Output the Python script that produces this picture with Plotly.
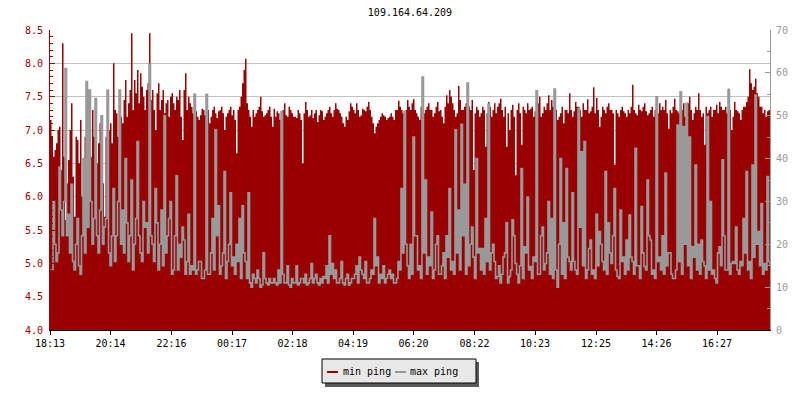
import plotly.graph_objects as go

# ---------------- data ----------------
title_text = "109.164.64.209"
step_min = 3  # sampling interval (minutes), first sample at 18:13
tick_minutes = [0, 121, 243, 364, 485, 606, 727, 849, 970, 1092, 1213, 1334]
tick_labels = ["18:13", "20:14", "22:16", "00:17", "02:18", "04:19",
               "06:20", "08:22", "10:23", "12:25", "14:26", "16:27"]

# min ping (ms), left axis
min_ping = [
    7.15, 6.9, 6.6, 6.7, 6.8, 7.0, 7.05, 6.4, 8.3, 6.6, 5.65, 6.2, 6.55, 7.0, 7.4, 6.3, 5.7, 6.9, 6.85, 6.5, 7.15, 6.0, 5.72, 6.9,
    6.73, 7.0, 7.1, 6.6, 7.3, 6.9, 7.1, 6.5, 6.8, 7.1, 6.85, 6.2, 5.7, 6.9, 6.6, 7.0, 7.1, 6.8, 8.0, 7.3, 7.25, 6.9, 7.0, 7.2,
    7.1, 7.45, 7.75, 7.2, 7.4, 7.6, 8.45, 7.3, 7.75, 7.55, 7.9, 7.4, 7.85, 7.65, 7.5, 7.3, 7.6, 7.7, 8.45, 7.45, 7.6, 7.3, 7.0, 7.55,
    7.7, 7.3, 7.45, 7.6, 7.25, 7.4, 7.45, 7.2, 7.5, 7.55, 7.4, 7.3, 7.5, 7.45, 7.6, 7.2, 6.85, 7.6, 7.85, 7.3, 7.5, 7.4, 7.35, 7.25,
    7.35, 7.28, 7.2, 7.15, 7.22, 7.32, 7.3, 7.22, 7.4, 7.3, 7.1, 7.2, 7.3, 7.35, 7.25, 7.18, 7.28, 7.3, 7.35, 7.25, 7.0, 7.2, 7.25, 7.3,
    7.35, 7.22, 7.3, 7.15, 6.65, 7.3, 7.35, 7.5, 7.7, 7.9, 8.07, 7.4, 7.3, 7.2, 7.05, 7.3, 7.2, 7.25, 7.3, 7.35, 7.5, 7.28, 7.2, 7.22,
    7.25, 7.3, 7.35, 7.2, 7.05, 7.32, 7.2, 7.28, 7.25, 7.15, 6.95, 7.3, 7.4, 7.22, 7.2, 7.35, 7.3, 7.25, 7.2, 7.2, 7.18, 7.3, 7.25, 7.15,
    6.5, 7.25, 7.42, 7.3, 7.2, 7.22, 7.3, 7.18, 7.25, 7.3, 7.12, 7.22, 7.3, 7.28, 7.15, 7.2, 7.25, 7.3, 7.35, 7.25, 7.2, 7.3, 7.4, 7.32,
    7.3, 7.25, 7.2, 7.1, 7.05, 7.2, 7.15, 7.28, 7.4, 7.35, 7.3, 7.25, 7.4, 7.3, 7.2, 7.22, 7.32, 7.3, 7.28, 7.35, 7.42, 7.3, 7.2, 7.1,
    6.95, 7.05, 7.1, 7.15, 7.2, 7.25, 7.22, 7.2, 7.15, 7.18, 7.2, 7.25, 7.2, 7.15, 7.3, 7.3, 7.44, 7.35, 7.3, 7.25, 7.2, 7.3, 7.45, 7.35,
    7.3, 7.4, 7.46, 7.3, 7.25, 7.2, 7.15, 7.35, 7.58, 7.25, 7.3, 7.35, 7.4, 7.3, 7.3, 7.2, 7.25, 7.35, 7.42, 7.28, 7.3, 7.2, 7.1, 7.35,
    7.52, 7.4, 7.6, 7.5, 7.4, 7.3, 7.2, 7.25, 7.66, 7.45, 7.3, 7.3, 7.35, 7.4, 7.55, 7.35, 7.3, 7.45, 6.4, 7.25, 7.35, 7.3, 7.2, 7.25,
    7.35, 7.3, 6.75, 7.25, 7.42, 7.35, 7.2, 7.3, 7.4, 7.25, 7.35, 7.4, 7.47, 7.3, 7.2, 7.35, 6.75, 7.25, 7.0, 7.3, 7.38, 7.2, 6.32, 7.3,
    7.4, 7.25, 6.78, 7.35, 7.3, 7.25, 7.4, 7.3, 7.32, 7.35, 7.2, 7.28, 7.3, 7.4, 7.5, 7.2, 7.25, 7.35, 7.3, 7.4, 7.52, 7.3, 7.45, 7.35,
    7.25, 7.3, 7.15, 7.2, 7.25, 7.35, 7.1, 7.3, 7.3, 7.25, 7.55, 7.3, 7.2, 7.28, 7.42, 7.35, 7.35, 7.3, 7.2, 7.4, 7.3, 7.3, 7.46, 7.25,
    7.28, 7.35, 7.64, 7.25, 7.48, 7.3, 7.05, 7.2, 7.35, 7.3, 7.25, 7.35, 7.4, 7.3, 7.3, 7.25, 6.48, 7.3, 7.25, 7.2, 7.3, 7.35, 7.28, 7.25,
    7.2, 7.3, 7.25, 7.35, 7.68, 7.3, 7.25, 7.22, 7.38, 7.3, 7.28, 7.35, 7.4, 7.28, 7.22, 7.25, 7.3, 7.35, 7.2, 7.3, 7.48, 7.25, 7.4, 7.3,
    7.35, 7.3, 7.45, 7.25, 7.02, 7.3, 7.25, 7.35, 7.47, 7.3, 7.28, 7.25, 7.22, 7.3, 7.4, 7.2, 7.35, 7.4, 7.5, 7.3, 7.15, 7.25, 7.35, 7.3,
    7.55, 7.3, 7.2, 7.25, 6.78, 7.35, 7.25, 7.3, 7.35, 7.2, 7.3, 7.3, 7.38, 7.25, 7.42, 7.35, 7.3, 7.3, 7.35, 7.25, 7.62, 7.3, 7.0, 7.2,
    7.42, 7.3, 7.28, 7.25, 7.15, 7.3, 7.35, 7.35, 7.42, 7.5, 7.91, 7.7, 7.6, 7.65, 7.77, 7.55, 7.5, 7.35, 7.35, 7.25, 7.3, 7.2, 7.28, 7.3,
    7.3,
]

# max ping (ms), right axis
max_ping = [
    14, 14, 30, 20, 16, 18, 38, 28, 22, 30, 61, 22, 27, 18, 34, 16, 14, 20, 26, 15, 13, 22, 40, 18,
    58, 24, 56, 30, 20, 26, 54, 22, 18, 28, 50, 20, 24, 26, 56, 18, 15, 22, 33, 16, 22, 30, 56, 20,
    28, 18, 40, 25, 16, 22, 35, 14, 20, 26, 44, 22, 18, 16, 30, 24, 25, 18, 62, 22, 20, 16, 33, 25,
    14, 20, 28, 15, 50, 18, 22, 26, 30, 13, 14, 22, 36, 14, 20, 17, 24, 21, 13, 16, 27, 13, 15, 14,
    55, 13, 14, 16, 16, 12, 12, 14, 55, 13, 13, 18, 26, 14, 46.7, 22, 29, 13, 15, 18, 37, 12, 16, 20,
    32, 15, 17, 13, 20, 16, 26, 12, 29, 18, 16, 12, 32, 11, 10, 13, 12, 11, 14, 12, 10, 10.5, 18, 12,
    11, 10.5, 12, 11, 11, 12, 11, 10.5, 14, 11, 51, 13, 11, 11, 15, 10.5, 10, 12, 11, 11, 15, 10.5, 11, 12,
    12, 11, 13, 10.5, 11, 12, 15.5, 11, 12, 13, 11, 10.5, 12, 11, 12.5, 12, 15, 11, 22, 13, 15.5, 12, 14, 11,
    11, 12, 16, 11, 10.5, 12, 13, 10.5, 11, 12, 12, 13, 15, 11, 17, 14, 13, 12, 16, 11, 11, 12, 14, 13,
    26, 15, 17, 11, 13, 12, 15, 11, 12, 13, 14, 12, 13, 11, 11, 12, 16, 14, 33, 18, 51, 20, 15, 12,
    20, 13, 45, 22, 22, 14, 15, 12, 59, 18, 35, 13, 17, 15, 27.5, 12, 14, 20, 22, 13, 13, 15, 18, 12,
    22, 17, 33, 14, 16, 13, 46.7, 18, 28, 14, 48, 22, 34, 13, 57.6, 15, 20, 24, 17, 12, 40, 18, 19, 14,
    19, 13, 26, 16, 52.7, 14, 18, 20, 16, 12, 12.5, 15, 11, 13, 17, 18, 25, 11, 12.5, 14, 25.7, 22, 15.5, 13,
    11, 15, 37.7, 12, 19.4, 18, 31, 14, 14.8, 12, 17, 16, 55.8, 13, 13, 22, 24, 14, 15.5, 18, 30, 13, 26, 12,
    56.2, 14, 10, 20, 40, 13, 25, 12, 37.7, 17, 16, 14, 32, 16, 14, 13, 51.7, 24, 41.6, 15, 44, 12, 14, 19,
    21, 13, 14, 12, 27, 15, 23, 20, 16, 14, 37, 13, 25, 18, 15.5, 22, 33, 14, 12.5, 12, 28, 16, 17, 13,
    21, 14, 26.8, 17, 16, 13, 42.4, 15, 15, 12, 28.8, 18, 14.8, 14, 35, 22, 21, 13, 14, 12, 54.4, 16, 17, 14,
    22, 13, 36.6, 15, 18, 18, 13, 12, 12, 14, 47.8, 16, 55.6, 13, 47.5, 20, 52.9, 15, 45, 12, 19.5, 17, 38.5, 14,
    20, 13, 21, 16, 15, 12, 49.8, 14, 30, 13, 14, 12, 11, 18, 19.4, 15, 39.7, 22, 14, 14, 56, 13, 15.5, 16,
    15.5, 24, 14, 13, 16, 15, 26, 18, 37, 14, 16, 12, 38.5, 17, 54.8, 20, 23, 15, 29.5, 13, 15.5, 14, 35.8, 16,
    15,
]

series_names = ["min ping", "max ping"]
series_colors = ["#990000", "#999999"]

minutes = [i * step_min for i in range(len(min_ping))]

# ---------------- figure ----------------
MONO = "DejaVu Sans Mono"
L, R, T, B = 50, 30, 30, 70
W, H = 800, 400
PW, PH = W - L - R, H - T - B


def px_x(px):
    return (px - L) / PW


def px_y(py):
    return (H - B - py) / PH


fig = go.Figure()
fig.add_trace(go.Scatter(
    x=minutes, y=min_ping, name=series_names[0], mode="lines",
    line=dict(shape="hv", width=0, color=series_colors[0]),
    fill="tozeroy", fillcolor=series_colors[0], yaxis="y",
    showlegend=False, hoverinfo="skip"))
fig.add_trace(go.Scatter(
    x=minutes, y=max_ping, name=series_names[1], mode="lines",
    line=dict(shape="hv", width=1.6, color=series_colors[1]),
    yaxis="y2", showlegend=False, hoverinfo="skip"))

shapes = [
    # legend shadow
    dict(type="rect", xref="paper", yref="paper",
         x0=px_x(325), x1=px_x(479), y0=px_y(387), y1=px_y(362),
         fillcolor="#5a5a5a", line=dict(width=0), layer="above"),
    # legend box
    dict(type="rect", xref="paper", yref="paper",
         x0=px_x(322), x1=px_x(476), y0=px_y(383), y1=px_y(359),
         fillcolor="#e8e8e8", line=dict(width=1, color="#000000"), layer="above"),
    dict(type="line", xref="paper", yref="paper",
         x0=px_x(327), x1=px_x(338), y0=px_y(372), y1=px_y(372),
         line=dict(width=2, color=series_colors[0]), layer="above"),
    dict(type="line", xref="paper", yref="paper",
         x0=px_x(395), x1=px_x(406), y0=px_y(372), y1=px_y(372),
         line=dict(width=2, color=series_colors[1]), layer="above"),
]

annotations = [
    dict(text=series_names[0], xref="paper", yref="paper", x=px_x(341), y=px_y(371.5),
         xanchor="left", yanchor="middle", showarrow=False,
         font=dict(family=MONO, size=10, color="#000000")),
    dict(text=series_names[1], xref="paper", yref="paper", x=px_x(408), y=px_y(371.5),
         xanchor="left", yanchor="middle", showarrow=False,
         font=dict(family=MONO, size=10, color="#000000")),
]

fig.update_layout(
    width=W, height=H,
    margin=dict(l=L, r=R, t=T, b=B, pad=0),
    paper_bgcolor="#ffffff", plot_bgcolor="#ffffff",
    font=dict(family=MONO, size=10, color="#000000"),
    title=dict(text=title_text, x=0.5, xref="paper", xanchor="center",
               y=1 - 12 / H, yref="container", yanchor="middle",
               font=dict(family=MONO, size=10, color="#000000")),
    showlegend=False,
    hovermode=False,
    xaxis=dict(range=[0, 1440], tickmode="array", tickvals=tick_minutes, ticktext=tick_labels,
               ticks="outside", ticklen=4, tickcolor="#000000", tickwidth=1,
               showline=True, linecolor="#000000", linewidth=1,
               showgrid=False, zeroline=False,
               tickfont=dict(family=MONO, size=10, color="#000000")),
    yaxis=dict(range=[4, 8.5], dtick=0.5, tick0=4, tickformat=".1f",
               ticks="inside", ticklen=5, tickcolor="#990000", tickwidth=1,
               showline=True, linecolor="#990000", linewidth=1,
               showgrid=True, gridcolor="#c0c0c0", gridwidth=1, zeroline=False,
               ticklabelstandoff=4,
               minor=dict(dtick=0.1, tick0=4, ticks="inside", ticklen=3,
                          tickcolor="#990000", showgrid=False),
               tickfont=dict(family=MONO, size=10, color="#990000")),
    yaxis2=dict(range=[0, 70], dtick=10, tick0=0, overlaying="y", side="right", anchor="x",
                ticks="inside", ticklen=5, tickcolor="#999999", tickwidth=1,
                showline=True, linecolor="#999999", linewidth=1,
                showgrid=False, zeroline=False,
                ticklabelstandoff=3,
                minor=dict(dtick=5, tick0=0, ticks="inside", ticklen=3,
                           tickcolor="#999999", showgrid=False),
                tickfont=dict(family=MONO, size=10, color="#999999")),
    shapes=shapes,
    annotations=annotations,
)

fig.write_html("out.html", config={"displayModeBar": False},
               post_script="document.body.style.margin='0px';")
